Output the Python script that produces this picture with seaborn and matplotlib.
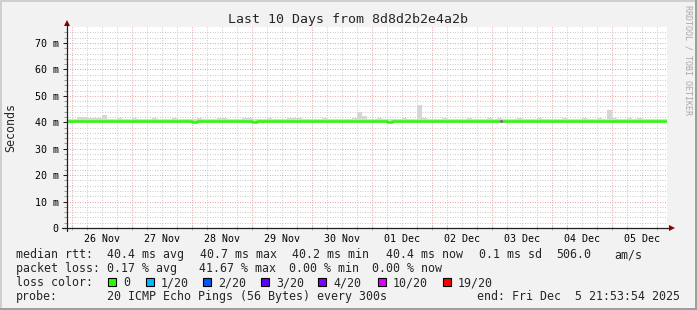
import numpy as np
import pandas as pd
import matplotlib
matplotlib.use("Agg")
import matplotlib.pyplot as plt
from matplotlib.patches import Rectangle, Polygon
from matplotlib.lines import Line2D
from matplotlib.transforms import Affine2D
import seaborn as sns

# ---------------- data ----------------
title = "Last 10 Days from 8d8d2b2e4a2b"
series_start = "2025-11-25 22:00"
range_start = "2025-11-25 21:53:54"
range_end = "2025-12-05 21:53:54"

median_ms = [
    40.4, 40.4, 40.5, 40.4, 40.4, 40.5, 40.4, 40.4, 40.4, 40.5, 40.4, 40.4,
    40.4, 40.5, 40.4, 40.4, 40.4, 40.4, 40.5, 40.4, 40.4, 40.4, 40.4, 40.5,
    40.4, 40.1, 40.4, 40.4, 40.4, 40.5, 40.4, 40.4, 40.4, 40.4, 40.5, 40.4,
    40.4, 40.1, 40.4, 40.4, 40.5, 40.4, 40.4, 40.4, 40.4, 40.3, 40.4, 40.4,
    40.4, 40.4, 40.5, 40.4, 40.4, 40.4, 40.4, 40.5, 40.4, 40.4, 40.4, 40.4,
    40.5, 40.4, 40.4, 40.4, 40.2, 40.4, 40.4, 40.5, 40.4, 40.4, 40.4, 40.4,
    40.4, 40.5, 40.4, 40.4, 40.4, 40.4, 40.4, 40.5, 40.4, 40.4, 40.4, 40.4,
    40.5, 40.4, 40.4, 40.4, 40.4, 40.5, 40.4, 40.4, 40.4, 40.4, 40.4, 40.5,
    40.4, 40.4, 40.4, 40.4, 40.5, 40.4, 40.4, 40.4, 40.3, 40.4, 40.4, 40.4,
    40.4, 40.5, 40.4, 40.4, 40.4, 40.4, 40.5, 40.4, 40.4, 40.4, 40.4, 40.4,
]
smoke_hi_ms = [
    41.3, 41.2, 41.9, 42.0, 41.7, 41.8, 41.6, 42.7, 41.3, 41.2, 41.5, 41.2,
    41.3, 41.8, 41.2, 41.3, 41.2, 41.5, 41.2, 41.3, 41.2, 41.6, 41.2, 41.3,
    41.2, 41.3, 41.5, 41.2, 41.3, 41.2, 41.8, 41.7, 41.2, 41.3, 41.2, 41.7,
    41.7, 41.2, 41.3, 41.2, 41.5, 41.2, 41.3, 41.2, 41.8, 41.7, 41.8, 41.3,
    41.2, 41.3, 41.2, 41.5, 41.2, 41.3, 41.2, 41.3, 41.2, 41.5, 43.9, 42.2,
    41.3, 41.2, 41.5, 41.2, 41.3, 41.2, 41.3, 41.6, 41.2, 41.3, 46.5, 41.5,
    41.2, 41.3, 41.2, 41.5, 41.2, 41.3, 41.2, 41.3, 41.6, 41.2, 41.3, 41.2,
    41.5, 41.2, 41.7, 41.3, 41.2, 41.3, 41.5, 41.2, 41.3, 41.2, 41.5, 41.2,
    41.3, 41.2, 41.3, 41.5, 41.2, 41.3, 41.2, 41.6, 41.2, 41.3, 41.8, 41.3,
    44.6, 41.5, 41.2, 41.3, 41.7, 41.2, 41.5, 41.2, 41.3, 41.2, 41.3, 41.2,
]
smoke_lo_ms = [
    39.8, 39.9, 39.8, 39.9, 39.8, 39.9, 39.9, 39.8, 39.9, 39.8, 39.9, 39.8,
    39.9, 39.8, 39.9, 39.9, 39.8, 39.9, 39.8, 39.9, 39.9, 39.8, 39.9, 39.8,
    39.9, 39.6, 39.8, 39.9, 39.8, 39.9, 39.8, 39.9, 39.9, 39.8, 39.9, 39.8,
    39.8, 39.6, 39.9, 39.8, 39.9, 39.8, 39.9, 39.8, 39.9, 39.8, 39.9, 39.8,
    39.9, 39.8, 39.9, 39.8, 39.9, 39.8, 39.9, 39.8, 39.9, 39.8, 39.8, 39.9,
    39.8, 39.9, 39.8, 39.9, 39.7, 39.8, 39.9, 39.8, 39.9, 39.8, 39.8, 39.9,
    39.9, 39.8, 39.9, 39.8, 39.9, 39.8, 39.9, 39.8, 39.9, 39.8, 39.9, 39.8,
    39.8, 39.9, 39.8, 39.9, 39.8, 39.9, 39.8, 39.9, 39.8, 39.9, 39.8, 39.9,
    39.9, 39.8, 39.9, 39.8, 39.9, 39.8, 39.9, 39.8, 39.8, 39.9, 39.8, 39.9,
    39.8, 39.9, 39.8, 39.9, 39.8, 39.9, 39.8, 39.9, 39.8, 39.9, 39.8, 39.9,
]
loss_start = ["2025-12-03 03:00"]
loss_end = ["2025-12-03 04:00"]
loss_level = ["10/20"]

loss_labels = ["0", "1/20", "2/20", "3/20", "4/20", "10/20", "19/20"]
loss_colors = ["#26ff00", "#00b8ff", "#0059ff", "#5e00ff", "#7e00ff", "#dd00ff", "#ff0000"]

ytick_values = [0, 10, 20, 30, 40, 50, 60, 70]
ytick_labels = ["0", "10 m", "20 m", "30 m", "40 m", "50 m", "60 m", "70 m"]

row1 = ["median rtt:", "40.4 ms avg", "40.7 ms max", "40.2 ms min", "40.4 ms now", "0.1 ms sd", "506.0", "am/s"]
row2 = ["packet loss:", "0.17 % avg", "41.67 % max", "0.00 % min", "0.00 % now"]
row4 = ["probe:", "20 ICMP Echo Pings (56 Bytes) every 300s", "end: Fri Dec  5 21:53:54 2025"]

# ---------------- figure ----------------
W, H = 697, 310
sns.set_theme(style="white")
plt.rcParams["font.family"] = ["DejaVu Sans Mono", "DejaVu Sans"]

fig = plt.figure(figsize=(W / 100, H / 100), dpi=100, facecolor="#f2f2f2")
pix = Affine2D().scale(1 / W, -1 / H).translate(0, 1) + fig.transFigure

ax = fig.add_axes([67 / W, (H - 228) / H, 599.75 / W, 200.9 / H])
ax.set_facecolor("white")
for s in ax.spines.values():
    s.set_visible(False)

t0 = pd.Timestamp(range_start)
t1 = pd.Timestamp(range_end)
ax.set_xlim(t0, t1)
ax.set_ylim(0, 76)

RED = "#e6a8a8"
GRAY = "#cccccc"
# grid
for t in pd.date_range("2025-11-26 00:00", "2025-12-05 18:00", freq="6h"):
    if t.hour == 0:
        ax.axvline(t, color=RED, lw=0.72, ls=(0, (1, 1.5)), zorder=1)
    else:
        ax.axvline(t, color=GRAY, lw=0.72, ls=(0, (1, 1.5)), zorder=0.9)
for v in range(2, 76, 2):
    if v % 10 == 0:
        ax.axhline(v, color=RED, lw=0.72, ls=(0, (1, 1.5)), zorder=1)
    else:
        ax.axhline(v, color=GRAY, lw=0.72, ls=(0, (1, 1.5)), zorder=0.9)

# data
times = pd.date_range(series_start, periods=len(median_ms), freq="2h")
t_ext = times.append(pd.DatetimeIndex([times[-1] + pd.Timedelta(hours=2)]))
df = pd.DataFrame({
    "time": t_ext,
    "median": median_ms + [median_ms[-1]],
    "hi": smoke_hi_ms + [smoke_hi_ms[-1]],
    "lo": smoke_lo_ms + [smoke_lo_ms[-1]],
})
ax.fill_between(df["time"], df["lo"], df["hi"], step="post", color="#d6d6d6", lw=0, zorder=2)
sns.lineplot(data=df, x="time", y="median", drawstyle="steps-post", color=loss_colors[0],
             lw=1.8, ax=ax, zorder=3, legend=False)
for s_, e_, lv in zip(loss_start, loss_end, loss_level):
    seg = df[(df["time"] <= pd.Timestamp(s_))].iloc[-1]
    ax.hlines(seg["median"], pd.Timestamp(s_), pd.Timestamp(e_),
              color=loss_colors[loss_labels.index(lv)], lw=1.8, zorder=4)

ax.set_xlabel("")
ax.set_ylabel("")

# ticks
ax.set_yticks(ytick_values)
ax.set_yticklabels(ytick_labels)
ax.set_yticks(range(2, 76, 2), minor=True)
ax.tick_params(axis="y", which="major", direction="out", length=3, width=0.75,
               color="#202020", pad=3, labelsize=7.2, labelcolor="black", left=True)
ax.tick_params(axis="y", which="minor", direction="out", length=2, width=0.75,
               color="#a0a0a0", left=True)
noons = pd.date_range("2025-11-26 12:00", periods=10, freq="D")
ax.set_xticks(noons)
ax.set_xticklabels([t.strftime("%d %b") for t in noons])
ax.set_xticks(pd.date_range("2025-11-26 00:00", "2025-12-05 18:00", freq="6h"), minor=True)
ax.tick_params(axis="x", which="major", length=0, pad=4.5, labelsize=7.2, labelcolor="black")
ax.tick_params(axis="x", which="minor", direction="inout", length=3, width=0.75,
               color="#b8b8b8", bottom=True)

# axis lines with arrows
fig.add_artist(Line2D([67, 67], [231, 23], transform=pix, color="#202020", lw=0.9))
fig.add_artist(Line2D([62, 669], [228, 228], transform=pix, color="#202020", lw=0.9))
fig.add_artist(Polygon([[64, 26], [70, 26], [67, 20]], closed=True, transform=pix,
                       facecolor="#8b0000", edgecolor="none"))
fig.add_artist(Polygon([[669, 225], [669, 231], [675, 228]], closed=True, transform=pix,
                       facecolor="#8b0000", edgecolor="none"))

# frame border
fig.add_artist(Rectangle((0, 0), W, 2, transform=pix, facecolor="#cfcfcf", edgecolor="none"))
fig.add_artist(Rectangle((0, 0), 2, H, transform=pix, facecolor="#cfcfcf", edgecolor="none"))
fig.add_artist(Rectangle((0, H - 2), W, 2, transform=pix, facecolor="#9e9e9e", edgecolor="none"))
fig.add_artist(Rectangle((W - 2, 0), 2, H, transform=pix, facecolor="#9e9e9e", edgecolor="none"))

# texts
fig.text(347.5, 20, title, transform=pix, ha="center", va="center", fontsize=9.5)
fig.text(11, 127, "Seconds", transform=pix, ha="center", va="center", rotation=90, fontsize=8.4)
fig.text(688, 60, "RRDTOOL / TOBI OETIKER", transform=pix, ha="center", va="center",
         rotation=270, fontsize=6.0, color="#a8a8a8")

fs = 8.4
for x, s in zip([16, 107, 200, 292, 386, 479, 556, 614], row1):
    fig.text(x, 258, s, transform=pix, ha="left", va="baseline", fontsize=fs)
for x, s in zip([16, 107, 199, 289, 372], row2):
    fig.text(x, 272, s, transform=pix, ha="left", va="baseline", fontsize=fs)
fig.text(16, 286, "loss color:", transform=pix, ha="left", va="baseline", fontsize=fs)
box_x = [108, 146, 203, 261, 318, 378, 443]
for bx, lab, col in zip(box_x, loss_labels, loss_colors):
    fig.add_artist(Rectangle((bx, 278), 8, 8, transform=pix, facecolor=col,
                             edgecolor="black", lw=0.8))
    fig.text(bx + 15, 286, lab, transform=pix, ha="left", va="baseline", fontsize=fs)
fig.text(16, 300, row4[0], transform=pix, ha="left", va="baseline", fontsize=fs)
fig.text(107, 300, row4[1], transform=pix, ha="left", va="baseline", fontsize=fs)
fig.text(680, 300, row4[2], transform=pix, ha="right", va="baseline", fontsize=fs)

fig.savefig("out.png", dpi=100, facecolor=fig.get_facecolor())
